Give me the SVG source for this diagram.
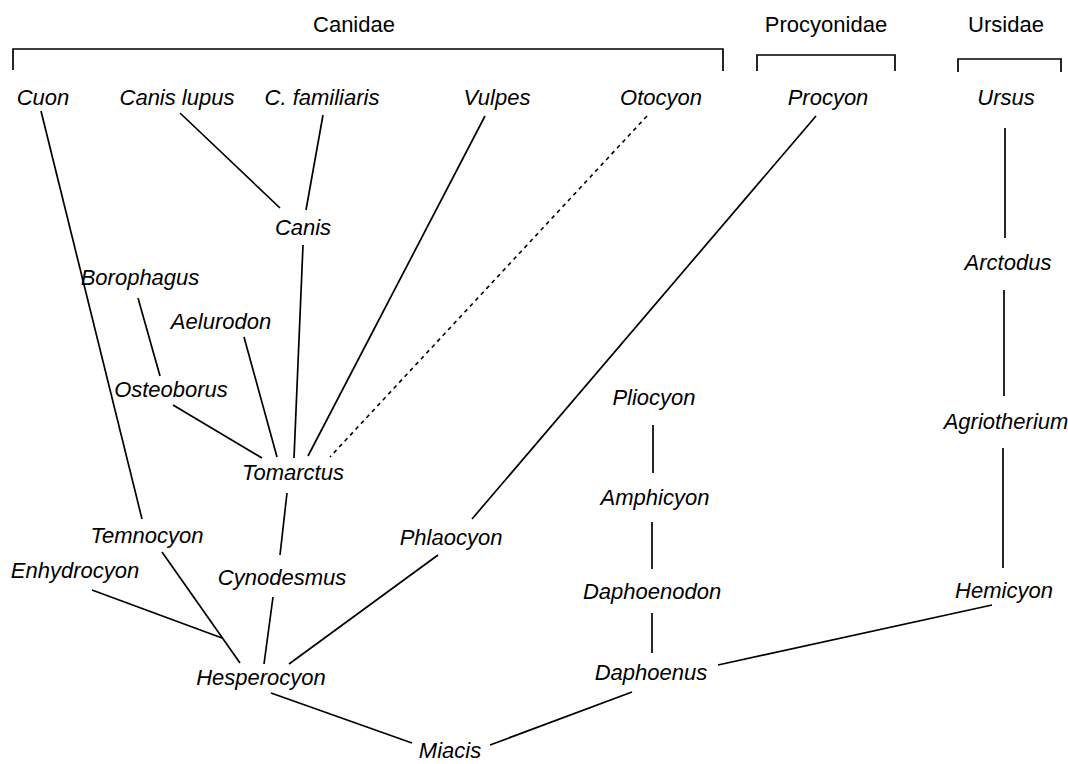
<svg xmlns="http://www.w3.org/2000/svg" width="1068" height="764" viewBox="0 0 1068 764">
<style>
  text { font-family: "Liberation Sans", Arial, sans-serif; font-size: 22px; fill: #000; text-anchor: middle; }
  .t { font-style: italic; }
  .e { stroke: #000; stroke-width: 1.7; fill: none; stroke-linecap: butt; }
  .d { stroke-width: 1.6; stroke-dasharray: 4 4; }
  .b { stroke: #000; stroke-width: 1.7; fill: none; }
</style>
<rect width="1068" height="764" fill="#fff"/>
<g id="families">
  <g id="fam-canidae"><text x="354" y="32">Canidae</text><path class="b" d="M13,70 V49 H723 V71"/></g>
  <g id="fam-procyonidae"><text x="826" y="32">Procyonidae</text><path class="b" d="M757,71 V55 H895 V71"/></g>
  <g id="fam-ursidae"><text x="1006" y="32">Ursidae</text><path class="b" d="M958,72 V59 H1061 V72"/></g>
</g>
<g id="connectors">
  <line class="e" x1="41" y1="111" x2="142" y2="519"/>
  <line class="e" x1="180" y1="113" x2="280" y2="208"/>
  <line class="e" x1="323" y1="115" x2="306" y2="210"/>
  <line class="e" x1="303" y1="245" x2="294" y2="458"/>
  <line class="e" x1="485" y1="116" x2="308" y2="456"/>
  <line class="e d" x1="647" y1="116" x2="330" y2="457"/>
  <line class="e" x1="816" y1="116" x2="472" y2="519"/>
  <line class="e" x1="138" y1="298" x2="160" y2="376"/>
  <line class="e" x1="244" y1="337" x2="277" y2="457"/>
  <line class="e" x1="173" y1="405" x2="262" y2="458"/>
  <line class="e" x1="287" y1="493" x2="280" y2="555"/>
  <line class="e" x1="162" y1="552" x2="240" y2="663"/>
  <line class="e" x1="92" y1="590" x2="222" y2="638"/>
  <line class="e" x1="273" y1="597" x2="264" y2="664"/>
  <line class="e" x1="438" y1="555" x2="289" y2="664"/>
  <line class="e" x1="271" y1="693" x2="412" y2="743"/>
  <line class="e" x1="490" y1="745" x2="632" y2="692"/>
  <line class="e" x1="718" y1="665" x2="992" y2="605"/>
  <line class="e" x1="652" y1="613" x2="652" y2="653"/>
  <line class="e" x1="652" y1="522" x2="652" y2="569"/>
  <line class="e" x1="653" y1="425" x2="653" y2="473"/>
  <line class="e" x1="1003" y1="448" x2="1003" y2="568"/>
  <line class="e" x1="1004" y1="290" x2="1004" y2="396"/>
  <line class="e" x1="1005" y1="128" x2="1005" y2="238"/>
</g>
<g id="nodes">
  <g id="n-cuon"><text class="t" x="43" y="105">Cuon</text></g>
  <g id="n-canis-lupus"><text class="t" x="177" y="105">Canis lupus</text></g>
  <g id="n-c-familiaris"><text class="t" x="322" y="105">C. familiaris</text></g>
  <g id="n-vulpes"><text class="t" x="497" y="105">Vulpes</text></g>
  <g id="n-otocyon"><text class="t" x="661" y="105">Otocyon</text></g>
  <g id="n-procyon"><text class="t" x="828" y="105">Procyon</text></g>
  <g id="n-ursus"><text class="t" x="1006" y="105">Ursus</text></g>
  <g id="n-canis"><text class="t" x="303" y="235">Canis</text></g>
  <g id="n-borophagus"><text class="t" x="140" y="285">Borophagus</text></g>
  <g id="n-aelurodon"><text class="t" x="221" y="329">Aelurodon</text></g>
  <g id="n-osteoborus"><text class="t" x="171" y="397">Osteoborus</text></g>
  <g id="n-tomarctus"><text class="t" x="293" y="480">Tomarctus</text></g>
  <g id="n-temnocyon"><text class="t" x="147" y="543">Temnocyon</text></g>
  <g id="n-enhydrocyon"><text class="t" x="75" y="578">Enhydrocyon</text></g>
  <g id="n-cynodesmus"><text class="t" x="282" y="585">Cynodesmus</text></g>
  <g id="n-phlaocyon"><text class="t" x="451" y="545">Phlaocyon</text></g>
  <g id="n-hesperocyon"><text class="t" x="261" y="685">Hesperocyon</text></g>
  <g id="n-miacis"><text class="t" x="450" y="758">Miacis</text></g>
  <g id="n-pliocyon"><text class="t" x="654" y="405">Pliocyon</text></g>
  <g id="n-amphicyon"><text class="t" x="655" y="505">Amphicyon</text></g>
  <g id="n-daphoenodon"><text class="t" x="652" y="599">Daphoenodon</text></g>
  <g id="n-daphoenus"><text class="t" x="651" y="680">Daphoenus</text></g>
  <g id="n-arctodus"><text class="t" x="1008" y="270">Arctodus</text></g>
  <g id="n-agriotherium"><text class="t" x="1006" y="429">Agriotherium</text></g>
  <g id="n-hemicyon"><text class="t" x="1004" y="598">Hemicyon</text></g>
</g>
</svg>
